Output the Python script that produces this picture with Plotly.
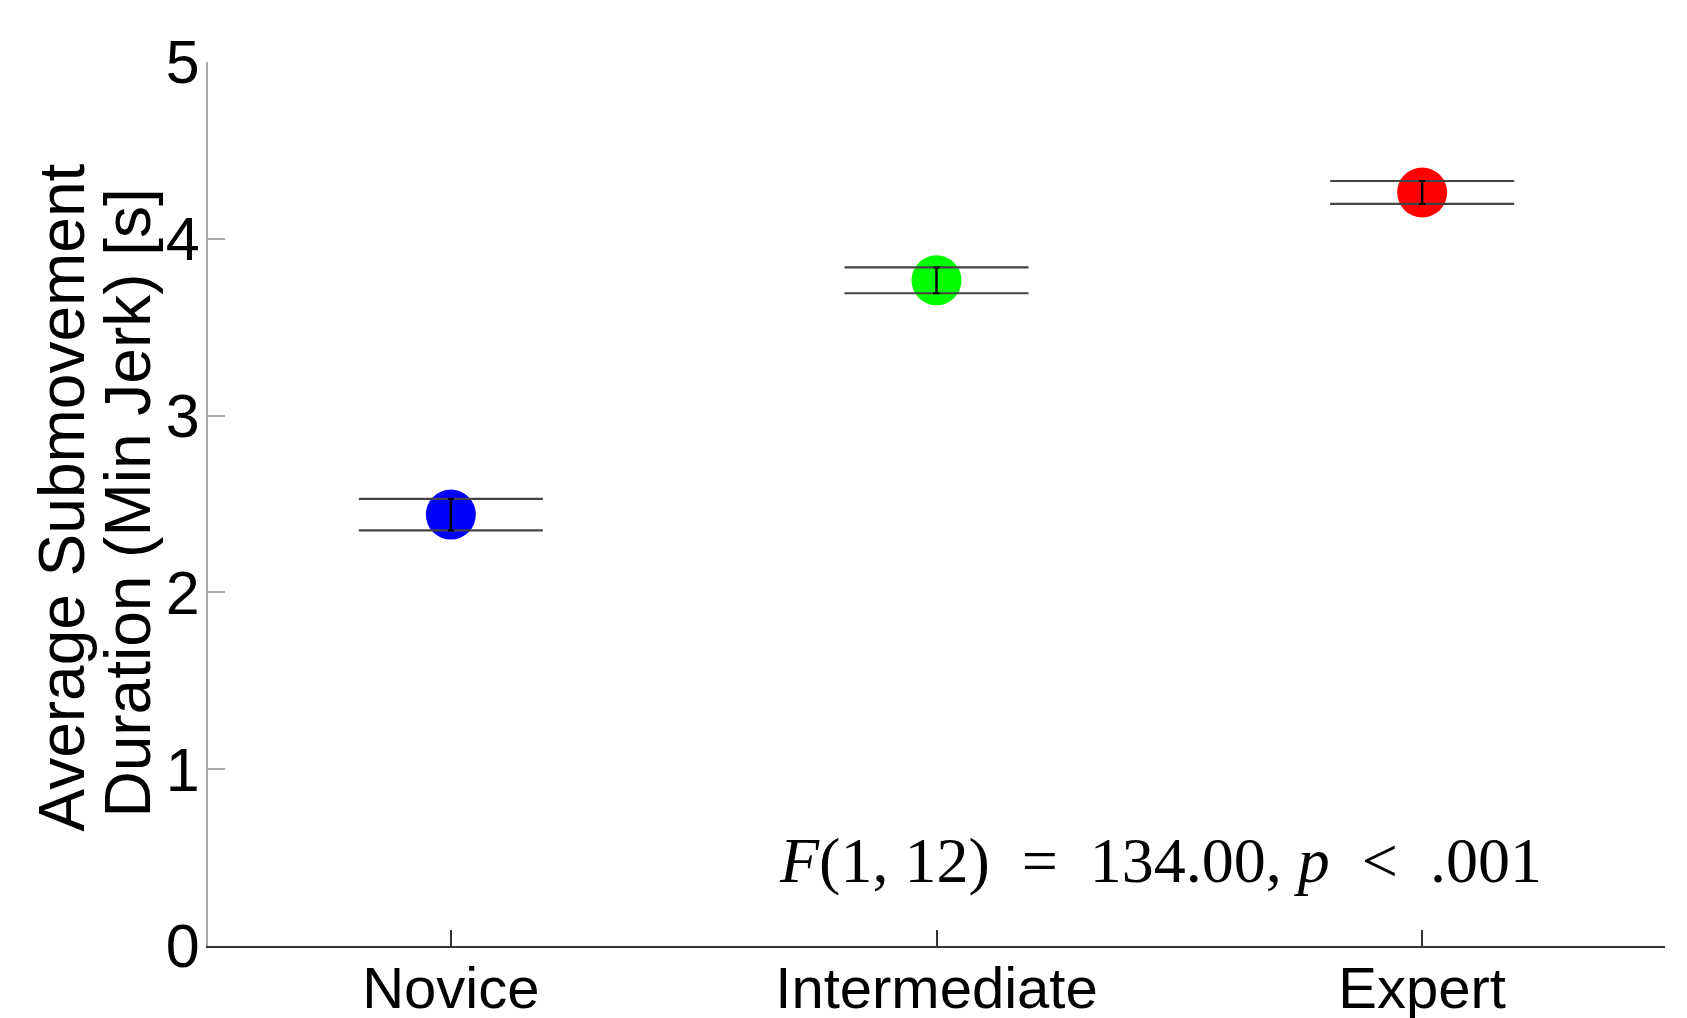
import plotly.graph_objects as go

categories = ["Novice", "Intermediate", "Expert"]
means = [2.44, 3.765, 4.262]
errors = [0.089, 0.073, 0.065]
colors = ["#0000FF", "#00FF00", "#FF0000"]
y_ticks = [0, 1, 2, 3, 4, 5]
y_title_lines = ["Average Submovement", "Duration (Min Jerk) [s]"]
stat_text = "<i>F</i>(1, 12)  =  134.00, <i>p</i>  <  .001"

fig = go.Figure()

fig.add_trace(go.Scatter(
    x=categories, y=means, mode="markers",
    marker=dict(color=colors, size=50, line=dict(width=0)),
    showlegend=False, hoverinfo="skip"))

fig.add_trace(go.Scatter(
    x=categories, y=means, mode="markers",
    marker=dict(size=1, opacity=0),
    error_y=dict(type="data", array=errors, visible=True,
                 color="#444444", thickness=2.2, width=92),
    showlegend=False, hoverinfo="skip"))

fig.add_trace(go.Scatter(
    x=categories, y=means, mode="markers",
    marker=dict(size=1, opacity=0),
    error_y=dict(type="data", array=errors, visible=True,
                 color="#000000", thickness=2.2, width=3),
    showlegend=False, hoverinfo="skip"))

# page body has an 8px margin; compensate so the plot area lands where the reference has it
fig.update_layout(
    width=1679, height=1010,
    margin=dict(l=200, r=22, t=54, b=72),
    paper_bgcolor="white", plot_bgcolor="white",
    font=dict(family="Liberation Sans, Arial, sans-serif", size=58, color="black"),
    xaxis=dict(
        type="category", categoryorder="array", categoryarray=categories,
        range=[-0.5, 2.5], showgrid=False, zeroline=False,
        showline=True, linecolor="#333333", linewidth=2,
        ticks="inside", ticklen=16, tickwidth=2, tickcolor="#333333",
        tickfont=dict(size=58), ticklabelstandoff=-10, automargin=False),
    yaxis=dict(
        range=[0, 5], tickvals=y_ticks, showgrid=False, zeroline=False,
        showline=True, linecolor="#aaaaaa", linewidth=2,
        ticks="inside", ticklen=17, tickwidth=2, tickcolor="#aaaaaa",
        tickfont=dict(size=61), ticklabelstandoff=-6, automargin=False),
    annotations=[
        dict(text=y_title_lines[0],
             xref="paper", yref="paper", x=-0.1005, y=0.507,
             xanchor="center", yanchor="middle", textangle=-90,
             showarrow=False, font=dict(size=64)),
        dict(text=y_title_lines[1],
             xref="paper", yref="paper", x=-0.0549, y=0.5005,
             xanchor="center", yanchor="middle", textangle=-90,
             showarrow=False, font=dict(size=64)),
        dict(text=stat_text, xref="paper", yref="paper",
             x=0.917, y=0.097, xanchor="right", yanchor="middle",
             showarrow=False,
             font=dict(family="Liberation Serif, Times New Roman, serif", size=64)),
    ],
)

fig.write_html("out.html")
